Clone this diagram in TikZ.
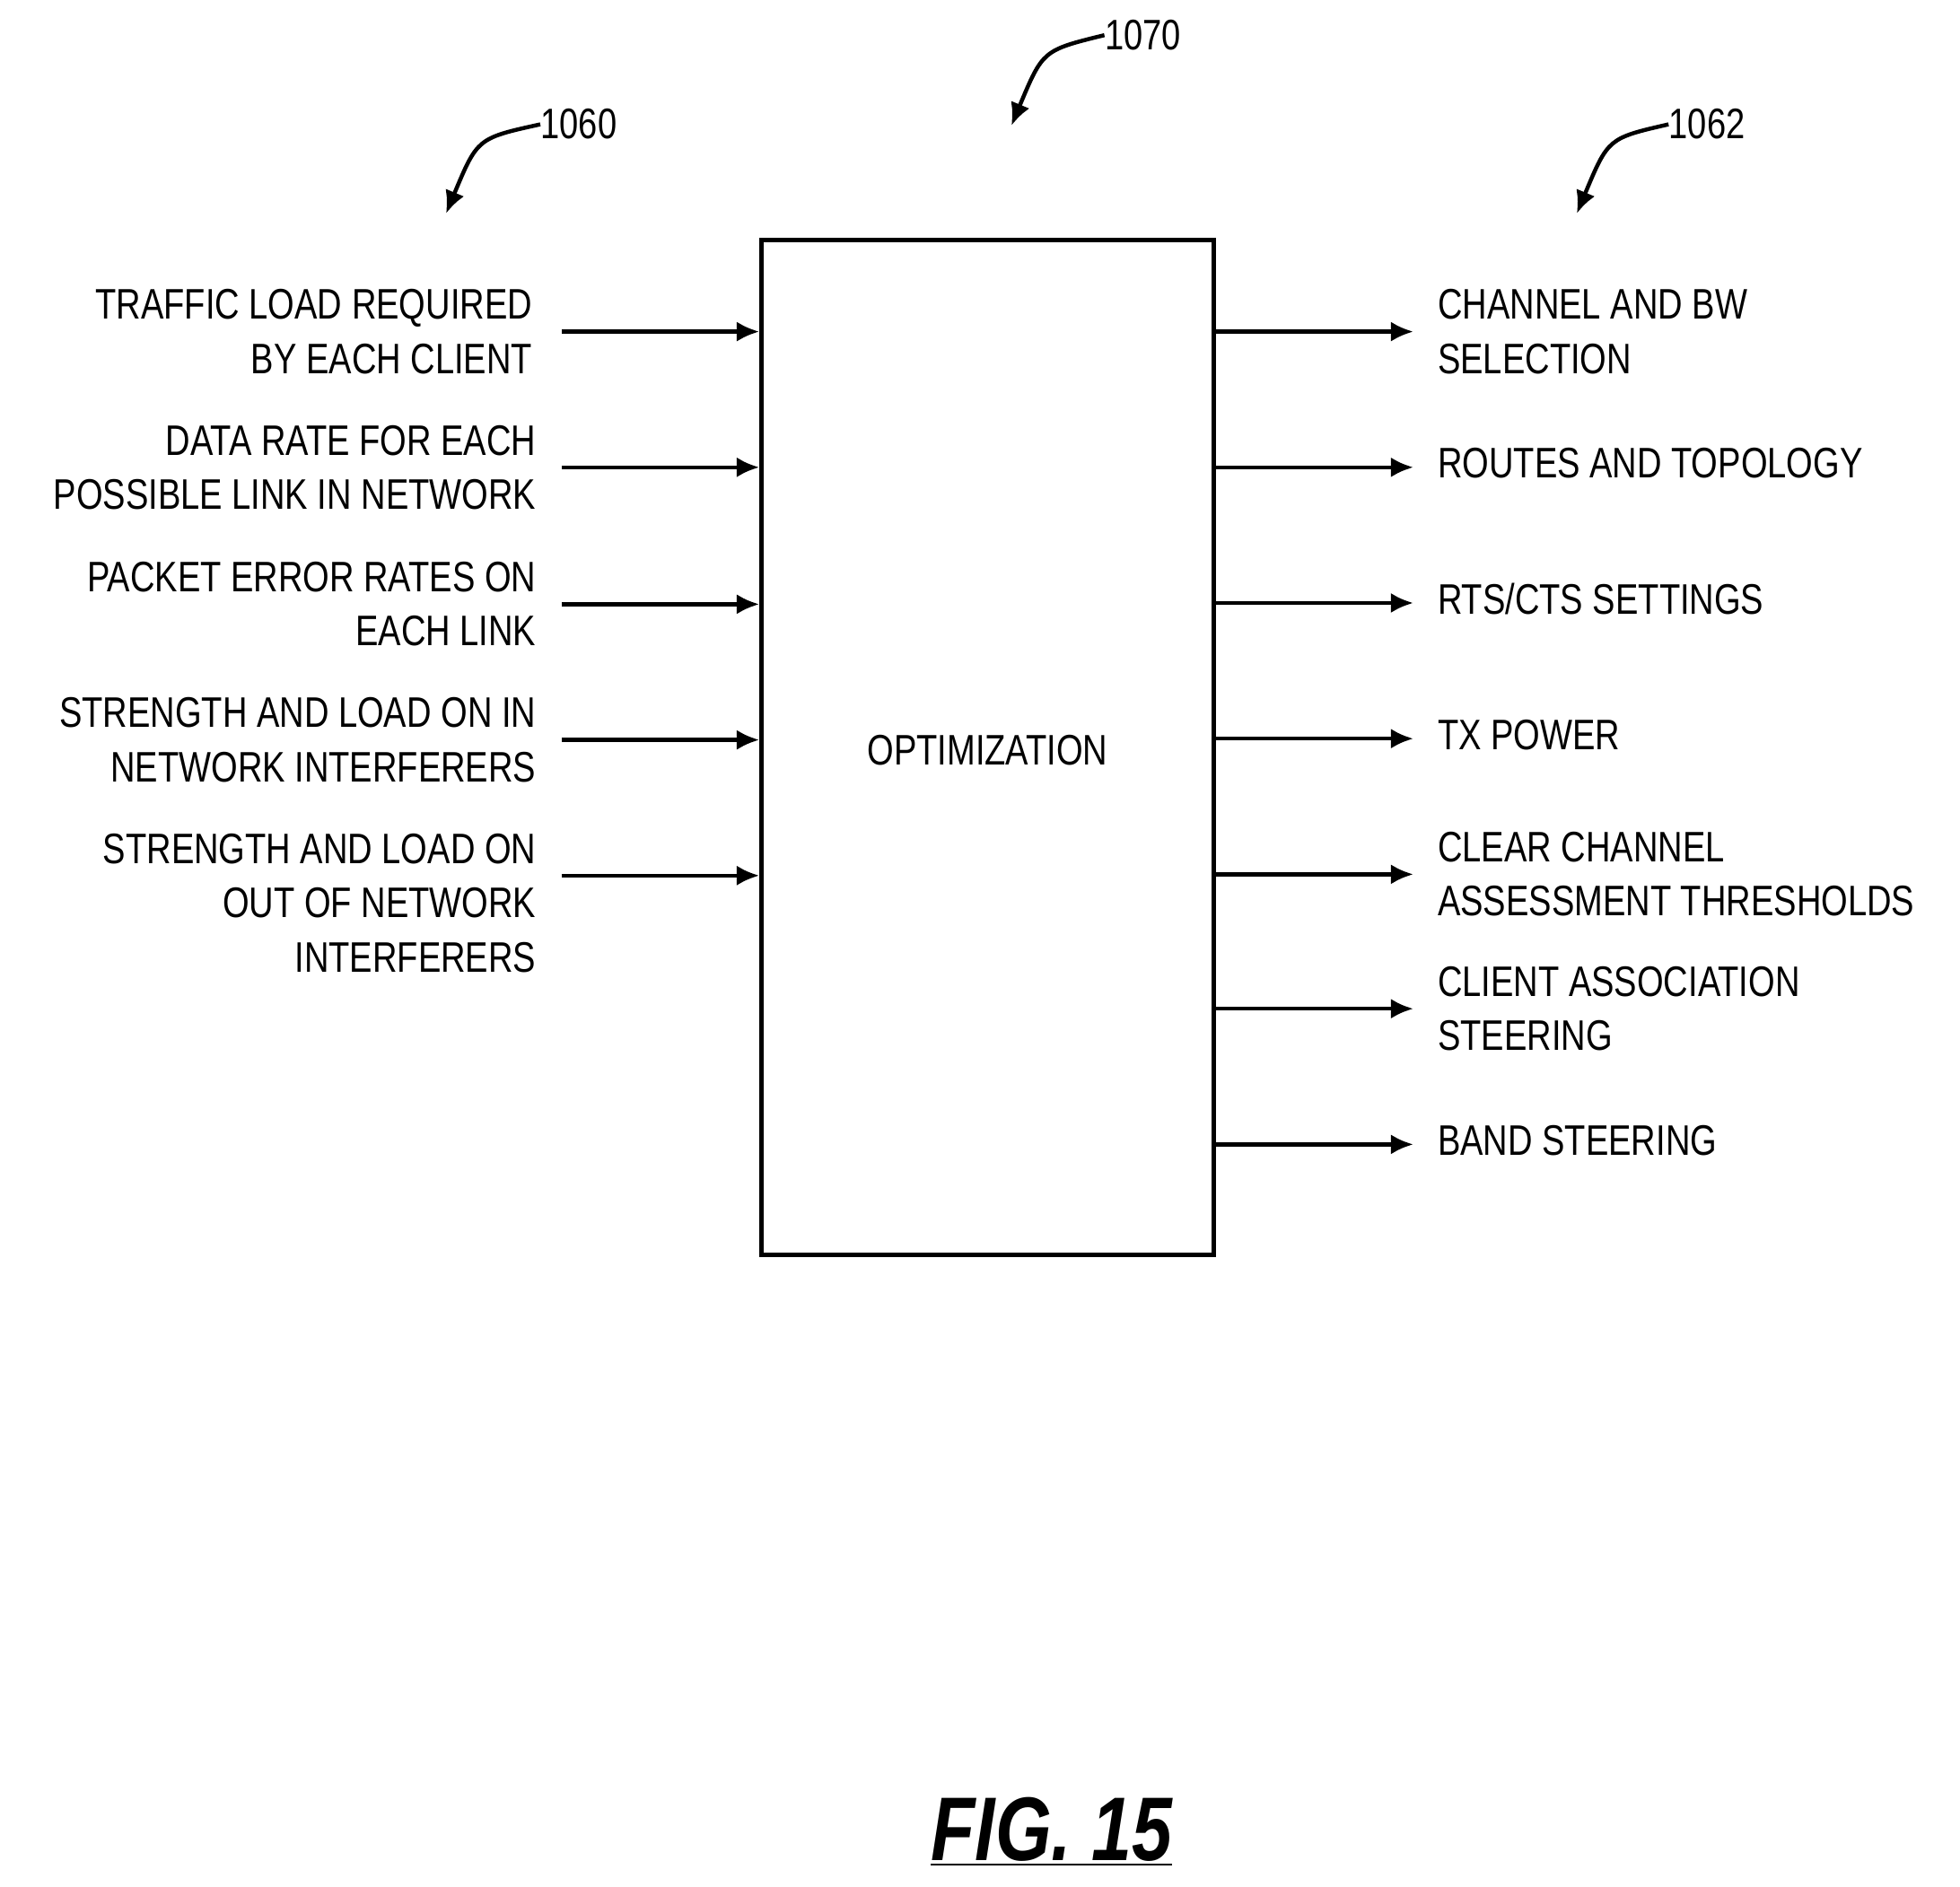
\documentclass[tikz,border=0pt]{standalone}
\usepackage{fontspec}
\setmainfont{Liberation Sans}[FakeStretch=0.8]
\usetikzlibrary{arrows.meta}
\begin{document}
\begin{tikzpicture}[x=0.5pt,y=-0.5pt,
  lab/.style={inner sep=0pt,font=\fontsize{17}{21.5}\selectfont},
  L/.style={lab,align=right,anchor=east},
  R/.style={lab,align=left,anchor=west},
  arr/.style={line width=1.6pt,-{Latex[length=9pt,width=8pt]}},
  ref/.style={line width=1.6pt,-{Latex[length=9pt,width=8pt]}}]
\useasboundingbox (0,0) rectangle (1560,1502);
\node[draw,line width=1.6pt,minimum width=180pt,minimum height=404pt,inner sep=0pt] (box) at (786,595) {};
\node[lab] (opt) at (786,597) {OPTIMIZATION};
% left
\node[L] (i1) at (424,264) {TRAFFIC LOAD REQUIRED\\BY EACH CLIENT};
\node[L] (i2) at (427,372) {DATA RATE FOR EACH\\POSSIBLE LINK IN NETWORK};
\node[L] (i3) at (427,481) {PACKET ERROR RATES ON\\EACH LINK};
\node[L] (i4) at (427,589) {STRENGTH AND LOAD ON IN\\NETWORK INTERFERERS};
\node[L] (i5) at (427,719) {STRENGTH AND LOAD ON\\OUT OF NETWORK\\INTERFERERS};
\foreach \n/\y in {a1/264,a2/372,a3/481,a4/589,a5/697}{
  \coordinate (\n) at (447,\y);}
\foreach \n/\y in {a1/264,a2/372,a3/481,a4/589,a5/697}{
  \draw[arr] (\n) -- (box.west |- \n);}
% right
\node[R] (o1) at (1144,264) {CHANNEL AND BW\\SELECTION};
\node[R] (o2) at (1144,369) {ROUTES AND TOPOLOGY};
\node[R] (o3) at (1144,477) {RTS/CTS SETTINGS};
\node[R] (o4) at (1144,585) {TX POWER};
\node[R] (o5) at (1144,696) {CLEAR CHANNEL\\ASSESSMENT THRESHOLDS};
\node[R] (o6) at (1144,803) {CLIENT ASSOCIATION\\STEERING};
\node[R] (o7) at (1144,908) {BAND STEERING};
\foreach \n/\y in {b1/264,b2/372,b3/480,b4/588,b5/696,b6/803,b7/911}{
  \coordinate (\n) at (1125,\y);
  \draw[arr] (box.east |- \n) -- (\n);}
% refs
\node[lab,anchor=west] (r1) at (430,99) {1060};
\node[lab,anchor=west] (r2) at (879,28) {1070};
\node[lab,anchor=west] (r3) at (1328,99) {1062};
\coordinate (t1) at (355,170);
\coordinate (t2) at (805,100);
\coordinate (t3) at (1255,170);
\draw[ref] (r1.west) .. controls (380,110) .. (t1);
\draw[ref] (r2.west) .. controls (830,40) .. (t2);
\draw[ref] (r3.west) .. controls (1280,110) .. (t3);
\node[inner sep=0pt,font=\fontsize{36}{40}\selectfont\bfseries\itshape] (fig) at (837,1458) {\underline{FIG. 15}};
\end{tikzpicture}
\end{document}
